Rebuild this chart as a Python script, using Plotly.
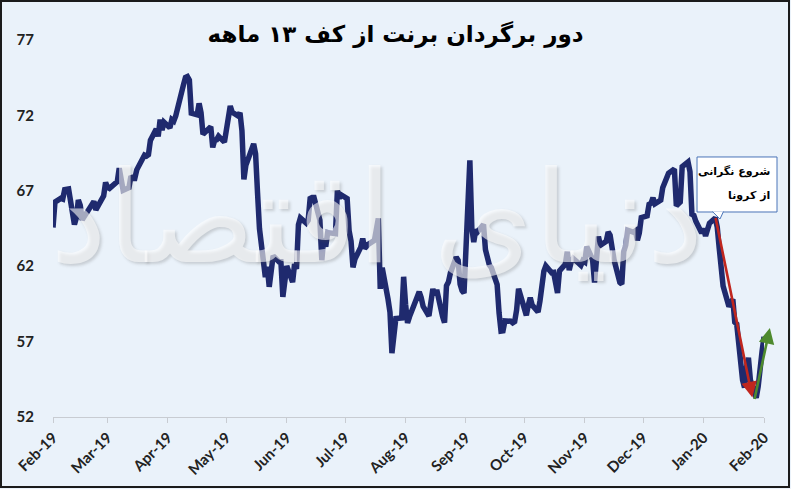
import plotly.graph_objects as go

# Brent daily closes (USD/bbl)
dates_2019_02 = ["2019-02-%02d" % d for d in [14, 15, 18, 19, 20, 21, 22, 25, 26, 27, 28]]
vals_2019_02 = [64.57, 66.25, 66.50, 66.45, 67.08, 67.07, 67.12, 64.76, 65.21, 66.39, 66.03]

dates_2019_03 = ["2019-03-%02d" % d for d in [1, 4, 5, 6, 7, 8, 11, 12, 13, 14, 15, 18, 19, 20, 21, 22, 25, 26, 27, 28, 29]]
vals_2019_03 = [65.07, 65.67, 65.86, 65.99, 66.30, 65.74, 66.58, 66.67, 67.55, 67.23, 67.16,
                67.54, 67.61, 68.50, 67.86, 67.03, 67.21, 67.97, 67.83, 67.82, 68.39]

dates_2019_04 = ["2019-04-%02d" % d for d in [1, 2, 3, 4, 5, 8, 9, 10, 11, 12, 15, 16, 17, 18, 22, 23, 24, 25, 26, 29, 30]]
vals_2019_04 = [69.01, 69.37, 69.31, 69.40, 70.34, 71.10, 70.61, 71.73, 71.02, 71.55, 71.18,
                71.72, 71.62, 71.97, 74.04, 74.51, 74.57, 74.35, 72.15, 72.04, 72.80]

dates_2019_05 = ["2019-05-%02d" % d for d in [1, 2, 3, 6, 7, 8, 9, 10, 13, 14, 15, 16, 17, 20, 21, 22, 23, 24, 28, 29, 30, 31]]
vals_2019_05 = [72.18, 70.75, 70.85, 71.24, 69.88, 70.37, 70.39, 70.62, 70.23, 71.24, 71.77,
                72.62, 72.21, 71.97, 72.18, 70.99, 67.76, 68.69, 70.11, 69.45, 66.87, 64.49]

dates_2019_06 = ["2019-06-%02d" % d for d in [3, 4, 5, 6, 7, 10, 11, 12, 13, 14, 17, 18, 19, 20, 21, 24, 25, 26, 27, 28]]
vals_2019_06 = [61.28, 61.97, 60.63, 61.67, 62.69, 62.29, 62.29, 59.97, 61.31, 62.01,
                60.94, 62.14, 61.82, 64.75, 65.20, 64.86, 65.05, 66.49, 66.55, 66.55]

dates_2019_07 = ["2019-07-%02d" % d for d in [1, 2, 3, 4, 5, 8, 9, 10, 11, 12, 15, 16, 17, 18, 19, 22, 23, 24, 25, 26, 29, 30, 31]]
vals_2019_07 = [65.06, 62.40, 63.82, 63.30, 64.23, 64.11, 64.16, 67.01, 66.52, 66.72, 66.48, 64.35,
                63.66, 61.93, 62.47, 63.26, 63.83, 63.18, 63.39, 63.46, 63.71, 64.72, 65.17]

dates_2019_08 = ["2019-08-%02d" % d for d in [1, 2, 5, 6, 7, 8, 9, 12, 13, 14, 15, 16, 19, 20, 21, 22, 23, 26, 27, 28, 29, 30]]
vals_2019_08 = [60.50, 61.89, 59.81, 58.94, 56.23, 57.38, 58.53, 58.57, 61.30, 59.48, 58.23,
                58.64, 59.74, 60.03, 60.30, 59.92, 59.34, 58.70, 59.51, 60.49, 60.08, 60.43]

dates_2019_09 = ["2019-09-%02d" % d for d in [2, 3, 4, 5, 6, 9, 10, 11, 12, 13, 16, 17, 18, 19, 20, 23, 24, 25, 26, 27, 30]]
vals_2019_09 = [58.66, 58.26, 60.70, 60.95, 61.54, 62.59, 62.38, 60.81, 60.38, 60.22, 69.02,
                64.55, 63.60, 64.40, 64.28, 64.77, 63.10, 62.39, 62.08, 61.91, 60.78]

dates_2019_10 = ["2019-10-%02d" % d for d in [1, 2, 3, 4, 7, 8, 9, 10, 11, 14, 15, 16, 17, 18, 21, 22, 23, 24, 25, 28, 29, 30, 31]]
vals_2019_10 = [58.89, 57.69, 57.71, 58.37, 58.35, 58.24, 58.32, 59.10, 60.51, 59.35, 58.74, 59.42,
                59.91, 59.42, 58.96, 59.70, 61.17, 61.67, 62.02, 61.57, 61.59, 60.61, 60.23]

dates_2019_11 = ["2019-11-%02d" % d for d in [1, 4, 5, 6, 7, 8, 11, 12, 13, 14, 15, 18, 19, 20, 21, 22, 25, 26, 27, 29]]
vals_2019_11 = [61.69, 62.13, 62.96, 61.74, 62.29, 62.51, 62.18, 62.06, 62.37, 62.28,
                63.30, 62.44, 60.91, 62.40, 63.97, 63.39, 63.65, 64.27, 64.06, 62.43]

dates_2019_12 = ["2019-12-%02d" % d for d in [2, 3, 4, 5, 6, 9, 10, 11, 12, 13, 16, 17, 18, 19, 20, 23, 24, 27, 30, 31]]
vals_2019_12 = [60.92, 60.82, 62.98, 63.39, 64.39, 64.25, 64.34, 63.72, 64.20, 65.22,
                65.34, 66.10, 66.17, 66.54, 66.14, 66.39, 67.20, 68.16, 68.44, 66.00]

dates_2020_01 = ["2020-01-%02d" % d for d in [2, 3, 6, 7, 8, 9, 10, 13, 14, 15, 16, 17, 20, 21, 22, 23, 24, 27, 28, 29, 30, 31]]
vals_2020_01 = [66.25, 68.60, 68.91, 68.27, 65.44, 65.37, 64.98, 64.20, 64.49, 64.00, 64.62,
                64.85, 65.20, 64.59, 63.21, 62.04, 60.69, 59.32, 59.51, 59.81, 58.29, 58.16]

dates_2020_02 = ["2020-02-%02d" % d for d in [3, 4, 5, 6, 7, 10, 11, 12, 13, 14]]
vals_2020_02 = [54.45, 53.96, 55.28, 55.93, 54.47, 53.27, 54.01, 55.79, 56.34, 57.32]

dates = (dates_2019_02 + dates_2019_03 + dates_2019_04 + dates_2019_05 + dates_2019_06 + dates_2019_07
         + dates_2019_08 + dates_2019_09 + dates_2019_10 + dates_2019_11 + dates_2019_12
         + dates_2020_01 + dates_2020_02)
brent = (vals_2019_02 + vals_2019_03 + vals_2019_04 + vals_2019_05 + vals_2019_06 + vals_2019_07
         + vals_2019_08 + vals_2019_09 + vals_2019_10 + vals_2019_11 + vals_2019_12
         + vals_2020_01 + vals_2020_02)

tick_dates = ["2019-02-14", "2019-03-14", "2019-04-14", "2019-05-14", "2019-06-14", "2019-07-14",
              "2019-08-14", "2019-09-14", "2019-10-14", "2019-11-14", "2019-12-14", "2020-01-14", "2020-02-14"]
tick_text = ["Feb-19", "Mar-19", "Apr-19", "May-19", "Jun-19", "Jul-19", "Aug-19",
             "Sep-19", "Oct-19", "Nov-19", "Dec-19", "Jan-20", "Feb-20"]
y_ticks = [52, 57, 62, 67, 72, 77]

title_text = "دور برگردان برنت از کف ۱۳ ماهه"
callout_lines = ["شروع نگرانی", "از کرونا"]
watermark_text = "دنیای اقتصاد"

BG = "#EAF2FA"
NAVY = "#1F2A6E"

fig = go.Figure()
fig.add_trace(go.Scatter(x=dates, y=brent, mode="lines",
                         line=dict(color=NAVY, width=5.5), hoverinfo="x+y", showlegend=False))

# watermark on top of the line (semi transparent white)
fig.add_annotation(x=0.455, y=0.53, xref="paper", yref="paper", text=watermark_text,
                   showarrow=False, xanchor="center", yanchor="middle",
                   font=dict(family="DejaVu Sans", size=128, color="rgba(255,255,255,0.58)",
                             shadow="2px 2px 3px rgba(80,80,80,0.4)"))

# down arrow (red) and rebound arrow (green)
fig.add_annotation(x="2020-02-08", y=53.3, ax="2020-01-20", ay=65.3, xref="x", yref="y",
                   axref="x", ayref="y", showarrow=True, arrowhead=2, arrowsize=1.2,
                   arrowwidth=2.6, arrowcolor="#C0261E", text="")
fig.add_annotation(x="2020-02-17", y=57.9, ax="2020-02-09", ay=53.1, xref="x", yref="y",
                   axref="x", ayref="y", showarrow=True, arrowhead=2, arrowsize=1.2,
                   arrowwidth=2.6, arrowcolor="#4E8A2E", text="")

# callout box with small pointer, then its two text lines
fig.add_shape(type="rect", xref="paper", yref="paper", x0=0.9058, x1=1.0183, y0=0.5438, y1=0.6897,
              fillcolor="white", line=dict(color="#4A74B8", width=1), layer="above")
fig.add_shape(type="path", xref="paper", yref="paper",
              path="M 0.9275,0.5450 L 0.9381,0.5252 L 0.9430,0.5450",
              fillcolor="white", line=dict(color="#4A74B8", width=1), layer="above")
for line_text, py in zip(callout_lines, [0.652, 0.588]):
    fig.add_annotation(x=1.011, y=py, xref="paper", yref="paper", text=line_text,
                       showarrow=False, xanchor="right", yanchor="middle",
                       font=dict(family="DejaVu Sans", size=11, color="black", weight="bold"))

# outer frame
fig.add_shape(type="rect", xref="paper", yref="paper",
              x0=-52 / 711, x1=736 / 711, y0=-70 / 377, y1=416 / 377,
              line=dict(color="#1B1B1B", width=2), fillcolor="rgba(0,0,0,0)", layer="above")

fig.update_layout(
    width=791, height=489,
    margin=dict(l=53, r=27, t=40, b=72),
    paper_bgcolor=BG, plot_bgcolor=BG,
    title=dict(text=title_text, x=0.5, xanchor="center", y=1 - 34 / 489, yanchor="middle",
               font=dict(family="DejaVu Sans", size=23, color="black", weight="bold")),
    font=dict(family="Lato", color="#222222"),
)
fig.update_xaxes(type="date", range=["2019-02-14", "2020-02-14"], tickvals=tick_dates, ticktext=tick_text,
                 tickangle=-45, tickfont=dict(family="Lato", size=15, color="#222222", weight="bold"),
                 showgrid=False, showline=True, linecolor="#C8CCD2", linewidth=1, automargin=False,
                 ticks="outside", ticklen=5, tickcolor="#C8CCD2", zeroline=False)
fig.update_yaxes(range=[52, 77], tickvals=y_ticks, showgrid=False, showline=False, zeroline=False,
                 ticks="", ticklabelstandoff=18, automargin=False,
                 tickfont=dict(family="Lato", size=15, color="#222222", weight="bold"))

fig.write_html("out.html", config={"displayModeBar": False},
               post_script="document.body.style.margin='0';document.body.style.overflow='hidden';")
